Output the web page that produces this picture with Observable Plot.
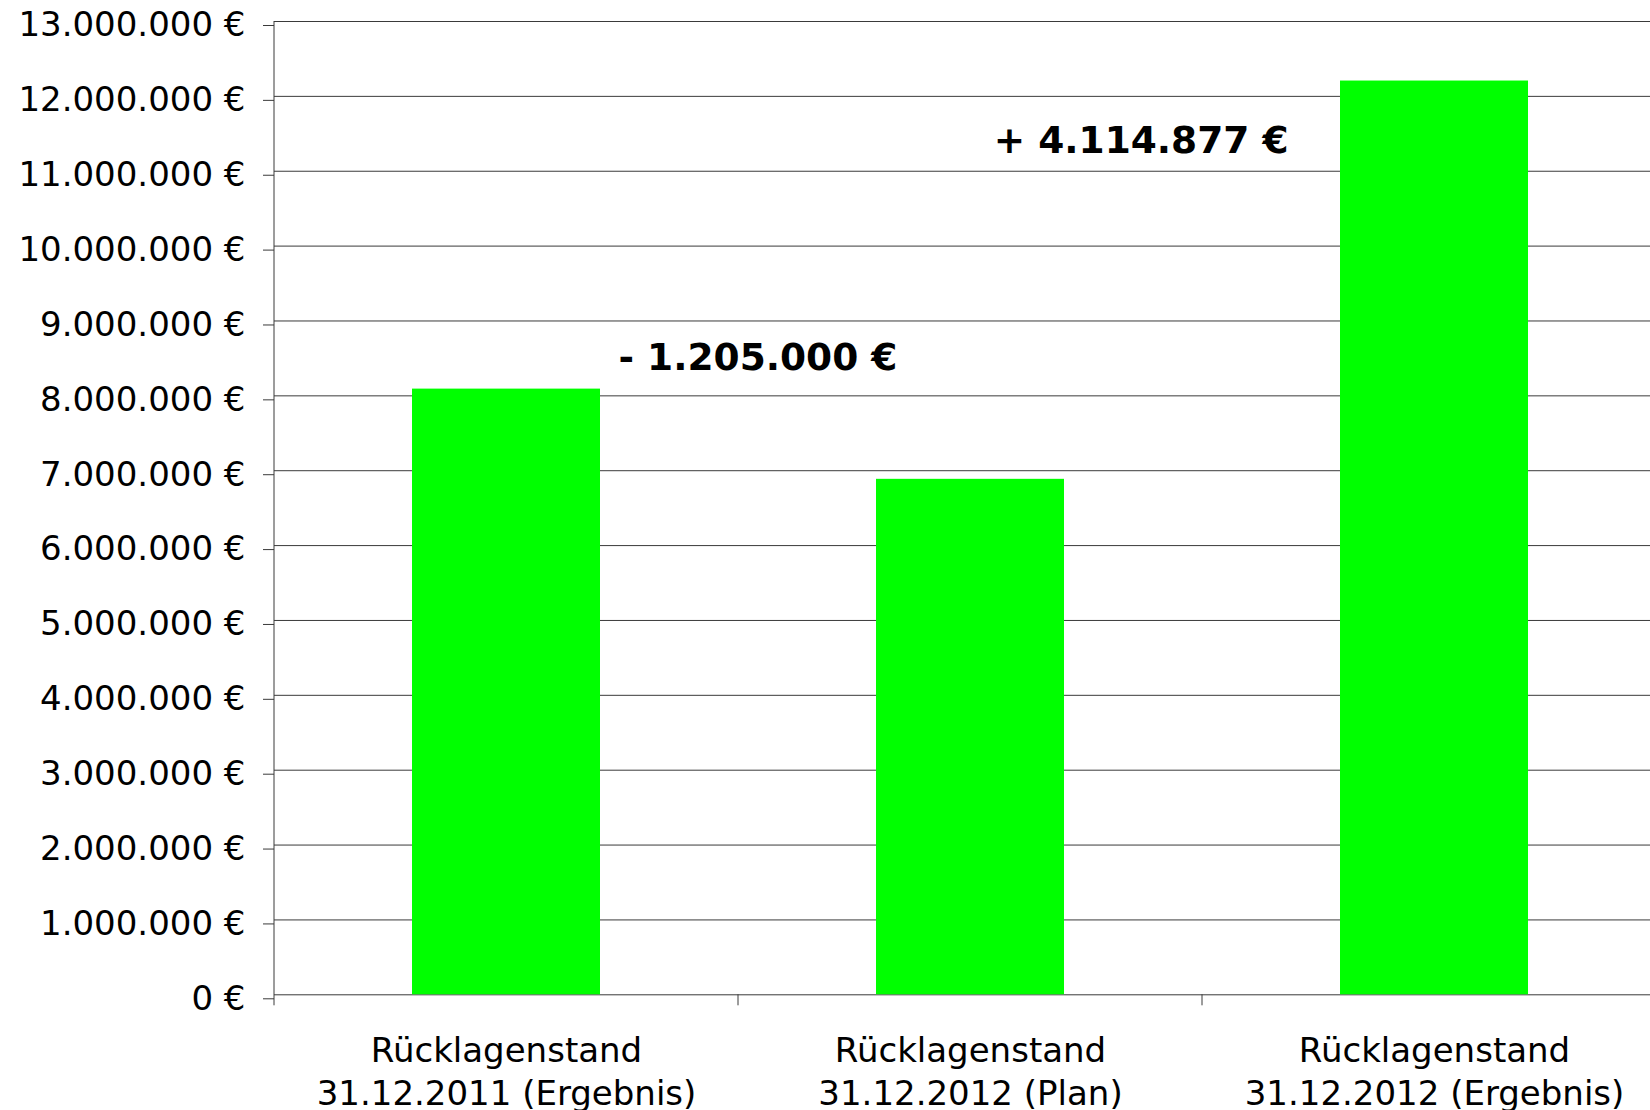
<!DOCTYPE html>
<html>
<head>
<meta charset="utf-8">
<script src="https://cdn.jsdelivr.net/npm/d3@7"></script>
<script src="https://cdn.jsdelivr.net/npm/@observablehq/plot@0.6"></script>
<style>
  html, body { margin: 0; padding: 0; background: #fff; overflow: hidden; }
  #chart svg { display: block; }
</style>
</head>
<body>
<div id="chart"></div>
<script>
const categories = [
  "Rücklagenstand\n31.12.2011 (Ergebnis)",
  "Rücklagenstand\n31.12.2012 (Plan)",
  "Rücklagenstand\n31.12.2012 (Ergebnis)"
];
const values = [8090000, 6885000, 12204877];
const yTicks = [0, 1000000, 2000000, 3000000, 4000000, 5000000, 6000000,
  7000000, 8000000, 9000000, 10000000, 11000000, 12000000, 13000000];
const changeLabels = ["- 1.205.000 €", "+ 4.114.877 €"];

const data = categories.map((c, i) => ({category: c, value: values[i]}));
const euro = d => d3.format(",")(d).replace(/,/g, ".") + " €";

const gridColor = "#3a3a3a";

// axis line + boundary ticks drawn from the scales
function axisFrame(index, scales) {
  const x = scales.x, y = scales.y;
  const gap = (x.step() - x.bandwidth()) / 2;
  const g = d3.create("svg:g").attr("stroke", gridColor).attr("stroke-width", 1);
  const y0 = y(0), yTop = y(yTicks[yTicks.length - 1]);
  const left = x(categories[0]) - gap;
  g.append("line").attr("x1", left).attr("x2", left).attr("y1", yTop).attr("y2", y0 + 11);
  categories.slice(1).forEach(c => {
    const bx = x(c) - gap;
    g.append("line").attr("x1", bx).attr("x2", bx).attr("y1", y0).attr("y2", y0 + 11);
  });
  return g.node();
}

const chart = Plot.plot({
  width: 1650,
  height: 1110,
  marginLeft: 274,
  marginRight: 0,
  marginTop: 21,
  marginBottom: 115.7,
  style: {fontFamily: "'DejaVu Sans', Verdana, sans-serif", fontSize: "34px", color: "#000", background: "#fff"},
  x: {domain: categories, range: [273.5, 1666.7], paddingInner: 0.595, paddingOuter: 0.2975},
  y: {domain: [0, 13000000]},
  marks: [
    Plot.ruleY(yTicks, {stroke: gridColor, strokeWidth: 1}),
    Plot.barY(data, {x: "category", y: "value", fill: "#00ff00"}),
    Plot.axisY({ticks: yTicks, tickFormat: euro, tickSize: 11, tickPadding: 18, fontSize: 34, dy: 4, stroke: gridColor, fill: "#000", label: null}),
    Plot.axisX({tickSize: 0, tickPadding: 37, fontSize: 34, lineHeight: 1.26, fill: "#000", label: null}),
    axisFrame,
    Plot.text([data[0]], {x: "category", y: "value", text: () => changeLabels[0], textAnchor: "start", dx: 112, dy: -31, fontSize: 37.5, fontWeight: "bold", fill: "#000"}),
    Plot.text([data[2]], {x: "category", y: "value", text: () => changeLabels[1], textAnchor: "end", dx: -146, dy: 60, fontSize: 37.5, fontWeight: "bold", fill: "#000"})
  ]
});
document.getElementById("chart").appendChild(chart);
</script>
</body>
</html>
